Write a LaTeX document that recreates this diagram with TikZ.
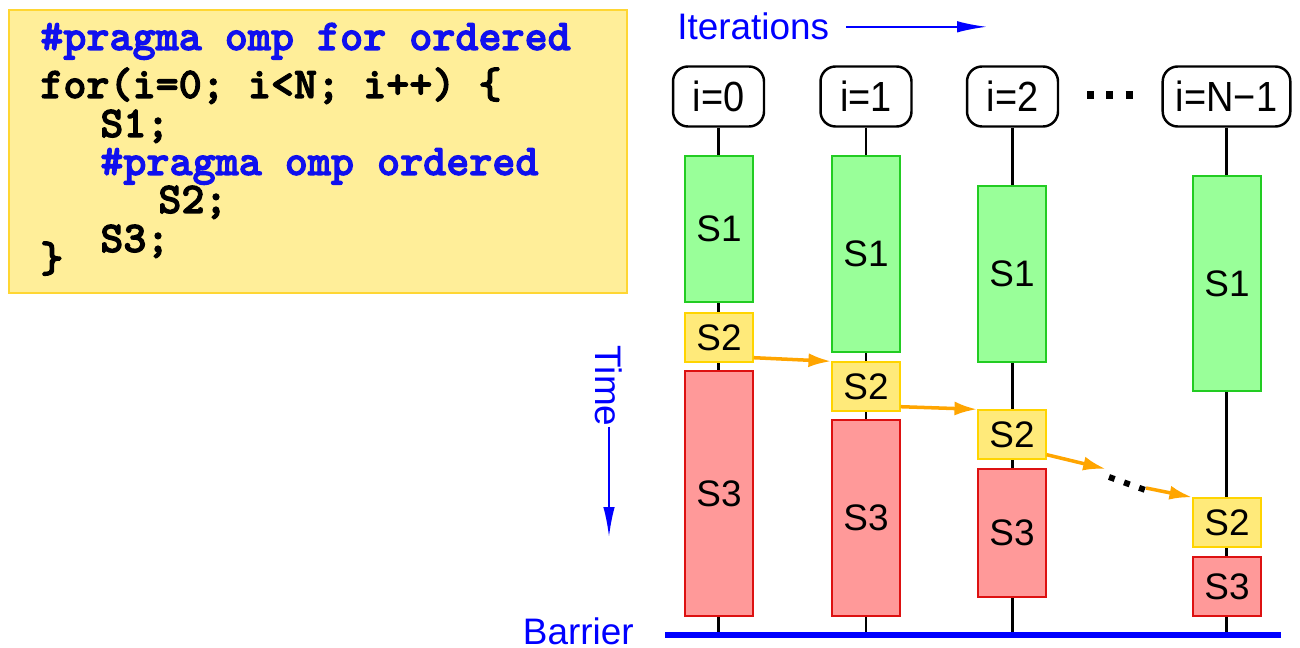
\documentclass[tikz,border=0pt]{standalone}
\usepackage{fontspec}
\setmainfont{Liberation Sans}
\newfontfamily\codefont{lmmonolt10-bold.otf}[FakeBold=2.5]
\usepackage{graphicx}
\usetikzlibrary{arrows.meta, backgrounds}
\definecolor{codeFill}{HTML}{FFEE99}
\definecolor{codeEdge}{HTML}{FFD633}
\definecolor{pragBlue}{HTML}{1010EE}
\definecolor{stOneFill}{HTML}{99FF99}
\definecolor{stOneEdge}{HTML}{22CC22}
\definecolor{stTwoFill}{HTML}{FFEA7A}
\definecolor{stTwoEdge}{HTML}{FFD400}
\definecolor{stThreeFill}{HTML}{FF9999}
\definecolor{stThreeEdge}{HTML}{DD1111}
\definecolor{orderArrow}{HTML}{FFA500}

\begin{document}
\begin{tikzpicture}[x=0.02cm, y=-0.02cm,
  lbl/.style={font=\fontsize{21}{25}\selectfont},
  codeline/.style={anchor=base west, inner sep=0, font=\codefont\fontsize{25}{30}\selectfont},
  iterbox/.style={draw, line width=1.4pt, rounded corners=0.3cm, minimum width=1.82cm,
    minimum height=1.2cm, inner xsep=7.5pt, font=\fontsize{24}{28}\selectfont},
  stmt/.style={draw, line width=0.8pt, minimum width=1.36cm, inner sep=0, lbl},
  ordarrow/.style={orderArrow, line width=2pt, -{Latex[length=13pt, width=8pt]}},
  bluearrow/.style={blue, line width=1.2pt, -{Latex[length=17pt, width=6.5pt]}}]
\useasboundingbox (0,0) rectangle (1300,648);

% source code
\node[draw=codeEdge, fill=codeFill, line width=1pt, minimum width=12.36cm,
  minimum height=5.66cm, inner sep=0] (code) at (318,151.5) {};
\node[codeline, pragBlue] (cl1) at (40,50) {\#pragma omp for ordered};
\node[codeline] (cl2) at (40,98) {for(i=0; i<N; i++) \{};
\node[codeline] (cl3) at (100,137) {S1;};
\node[codeline, pragBlue] (cl4) at (100,175) {\#pragma omp ordered};
\node[codeline] (cl5) at (158,213) {S2;};
\node[codeline] (cl6) at (100,252) {S3;};
\node[codeline] (cl7) at (40,272) {\}};

% axes
\node[lbl, blue, anchor=base west, inner sep=0] (iter) at (677,40) {Iterations};
\coordinate (iterEnd) at (987,0);
\draw[bluearrow, shorten <=9.6pt] (iter.east) -- (iter.east -| iterEnd);
\node[lbl, blue, rotate=-90, inner sep=0] (time) at (609,386) {Time};
\coordinate (timeEnd) at (609,537);
\draw[bluearrow] (time.east) -- (timeEnd);

% iterations header
\foreach \c/\x/\txt in {0/718.5/{i=0}, 1/866/{i=1}, 2/1012.5/{i=2}, 3/1226.5/{i=N−1}}{
  \node[iterbox] (h\c) at (\x,96.5) {\scalebox{0.9}[1]{\txt}};
}
\coordinate (hdotA) at (1087,95);
\coordinate (hdotB) at (1133,95);
\draw[line width=4pt, dash pattern=on 4pt off 7pt] (hdotA) -- (hdotB);

% barrier
\coordinate (barL) at (665,635);
\coordinate (barR) at (1281,635);
\begin{scope}[on background layer]
\foreach \c in {0,...,3}
  \draw[line width=1.4pt] (h\c.south) -- (h\c.south |- barL);
\end{scope}
\draw[blue, line width=3.4pt] (barL) -- (barR);
\node[lbl, blue, anchor=base east, inner sep=0] (bar) at (634,644) {Barrier};

% statements of each iteration
\foreach \c/\x/\ta/\tb/\tc/\td/\te/\tf in {0/719/156/302/313/362/371/616,
    1/866/156/352/362/411/420/616, 2/1012/186/362/410/459/469/597,
    3/1227/176/391/498/547/557/616}{
  \node[stmt, fill=stOneFill, draw=stOneEdge, minimum height={(\tb-\ta)*0.02cm}]
    (sone\c) at (\x,{(\ta+\tb)/2}) {S1};
  \node[stmt, fill=stTwoFill, draw=stTwoEdge, minimum height={(\td-\tc)*0.02cm}]
    (stwo\c) at (\x,{(\tc+\td)/2}) {S2};
  \node[stmt, fill=stThreeFill, draw=stThreeEdge, minimum height={(\tf-\te)*0.02cm}]
    (sthree\c) at (\x,{(\te+\tf)/2}) {S3};
}

% ordered hand-over of S2
\draw[ordarrow] ([yshift=0.1cm]stwo0.south east) -- (stwo1.north west);
\draw[ordarrow] ([yshift=0.1cm]stwo1.south east) -- (stwo2.north west);
\coordinate (gapL) at (1106,469);
\coordinate (gapR) at (1146,488);
\coordinate (dotA) at (1109,477);
\coordinate (dotB) at (1148,491);
\draw[ordarrow] ([yshift=0.1cm]stwo2.south east) -- (gapL);
\draw[line width=3.4pt, dash pattern=on 3.4pt off 5.7pt] (dotA) -- (dotB);
\draw[ordarrow] (gapR) -- (stwo3.north west);
\end{tikzpicture}
\end{document}
